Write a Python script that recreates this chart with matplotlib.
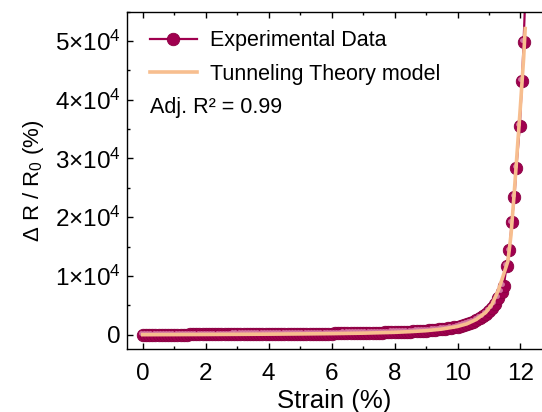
import matplotlib
matplotlib.use("Agg")
import matplotlib.pyplot as plt
import matplotlib.transforms as mtransforms
from matplotlib.ticker import FixedLocator, MultipleLocator, FixedFormatter
import numpy as np

plt.rcParams['font.family'] = ['Liberation Sans', 'DejaVu Sans']
plt.rcParams['mathtext.fontset'] = 'custom'
plt.rcParams['mathtext.rm'] = 'Liberation Sans'
plt.rcParams['mathtext.it'] = 'Liberation Sans:italic'

# experimental data, strain (%) vs dR/R0 (%)
strain_dense = [i / 10 for i in range(0, 115)]
resp_dense = [
    0, 2, 4, 6, 8, 10, 12, 14, 16, 18,
    20, 22, 24, 27, 30, 32, 34, 36, 38, 40,
    40, 43, 46, 49, 52, 55, 58, 61, 64, 67,
    70, 73, 76, 79, 82, 85, 88, 91, 94, 97,
    100, 104, 108, 112, 116, 120, 124, 128, 132, 136,
    140, 146, 152, 158, 164, 170, 176, 182, 188, 194,
    200, 209, 218, 227, 236, 245, 254, 263, 272, 281,
    290, 303, 316, 330, 344, 358, 372, 386, 400, 415,
    430, 450, 470, 490, 515, 540, 570, 600, 630, 665,
    700, 740, 785, 835, 890, 950, 1010, 1080, 1160, 1250,
    1350, 1480, 1630, 1800, 2000, 2220, 2500, 2800, 3120, 3500,
    4000, 4600, 5300, 6300, 7300,
]
strain_high = [11.47, 11.56, 11.65, 11.72, 11.81, 11.87, 11.98, 12.05, 12.10, 12.17]
resp_high = [8330, 11730, 14340, 19100, 23470, 28450, 35540, 43200, 49830, 60000]

strain_exp = strain_dense + strain_high
resp_exp = resp_dense + resp_high

# tunneling theory fit
strain_fit = [0, 1, 2, 3, 4, 5, 6, 7, 8, 8.5, 9, 9.5, 10, 10.3, 10.6, 10.9,
              11.1, 11.3, 11.45, 11.6, 11.7, 11.8, 11.9, 12.0, 12.1, 12.15]
resp_fit = [0, 15, 35, 60, 90, 130, 180, 260, 400, 520, 680, 950, 1400, 1850,
            2600, 3800, 5200, 7600, 10000, 12500, 17000, 24000, 31500, 39000,
            47000, 52100]

ytick_vals = [0, 10000, 20000, 30000, 40000, 50000]
ytick_labels = ['0', '1×10$^{4}$', '2×10$^{4}$', '3×10$^{4}$', '4×10$^{4}$', '5×10$^{4}$']

exp_color = '#A0004F'
fit_color = '#F7BE8F'

fig = plt.figure(figsize=(5.42, 4.12), dpi=100)
ax = fig.add_axes([0.235, 0.153, 0.763, 0.819])

ax.plot(strain_exp, resp_exp, '-', color=exp_color, lw=1.6, marker='o', ms=9,
        mfc=exp_color, mec='#8A0042', mew=0.6, zorder=2)
# small highlight to mimic shaded balls
hl = mtransforms.offset_copy(ax.transData, fig=fig, x=-1.3, y=1.3, units='points')
ax.plot(strain_exp, resp_exp, 'o', ms=3.5, color='#D77FA8', mec='none',
        alpha=0.9, transform=hl, zorder=2.5)
ax.plot(strain_fit, resp_fit, '-', color=fit_color, lw=2.6, zorder=3)

ax.set_xlim(-0.49, 12.65)
ax.set_ylim(-2430, 55000)
ax.xaxis.set_major_locator(MultipleLocator(2))
ax.xaxis.set_minor_locator(MultipleLocator(1))
ax.yaxis.set_major_locator(FixedLocator(ytick_vals))
ax.yaxis.set_major_formatter(FixedFormatter(ytick_labels))
ax.yaxis.set_minor_locator(MultipleLocator(5000))

ax.spines['right'].set_visible(False)
for s in ['left', 'bottom', 'top']:
    ax.spines[s].set_linewidth(1.0)
ax.tick_params(which='both', direction='in', top=True, right=False, labelsize=17.5, width=1.0)
ax.tick_params(which='major', length=4.5)
ax.tick_params(which='minor', length=2.5)
ax.tick_params(axis='x', which='major', pad=10)
ax.tick_params(axis='y', which='major', pad=5)

ax.set_xlabel('Strain (%)', fontsize=18.5, labelpad=3)
ax.set_ylabel('Δ R / R$_0$ (%)', fontsize=16, labelpad=6)

exp_handle = plt.Line2D([], [], color=exp_color, lw=1.6, marker='o', ms=9,
                        mfc=exp_color, mec='#8A0042', mew=0.6)
fit_handle = plt.Line2D([], [], color=fit_color, lw=2.6)
ax.legend([exp_handle, fit_handle], ['Experimental Data', 'Tunneling Theory model'],
          loc='upper left', bbox_to_anchor=(0.054, 0.945), frameon=False,
          fontsize=15.5, handlelength=2.2, handletextpad=0.6, labelspacing=0.6,
          borderaxespad=0, borderpad=0)
ax.text(0.054, 0.717, 'Adj. R² = 0.99', transform=ax.transAxes, fontsize=15.5,
        ha='left', va='center')

fig.savefig('out.png', dpi=100)
